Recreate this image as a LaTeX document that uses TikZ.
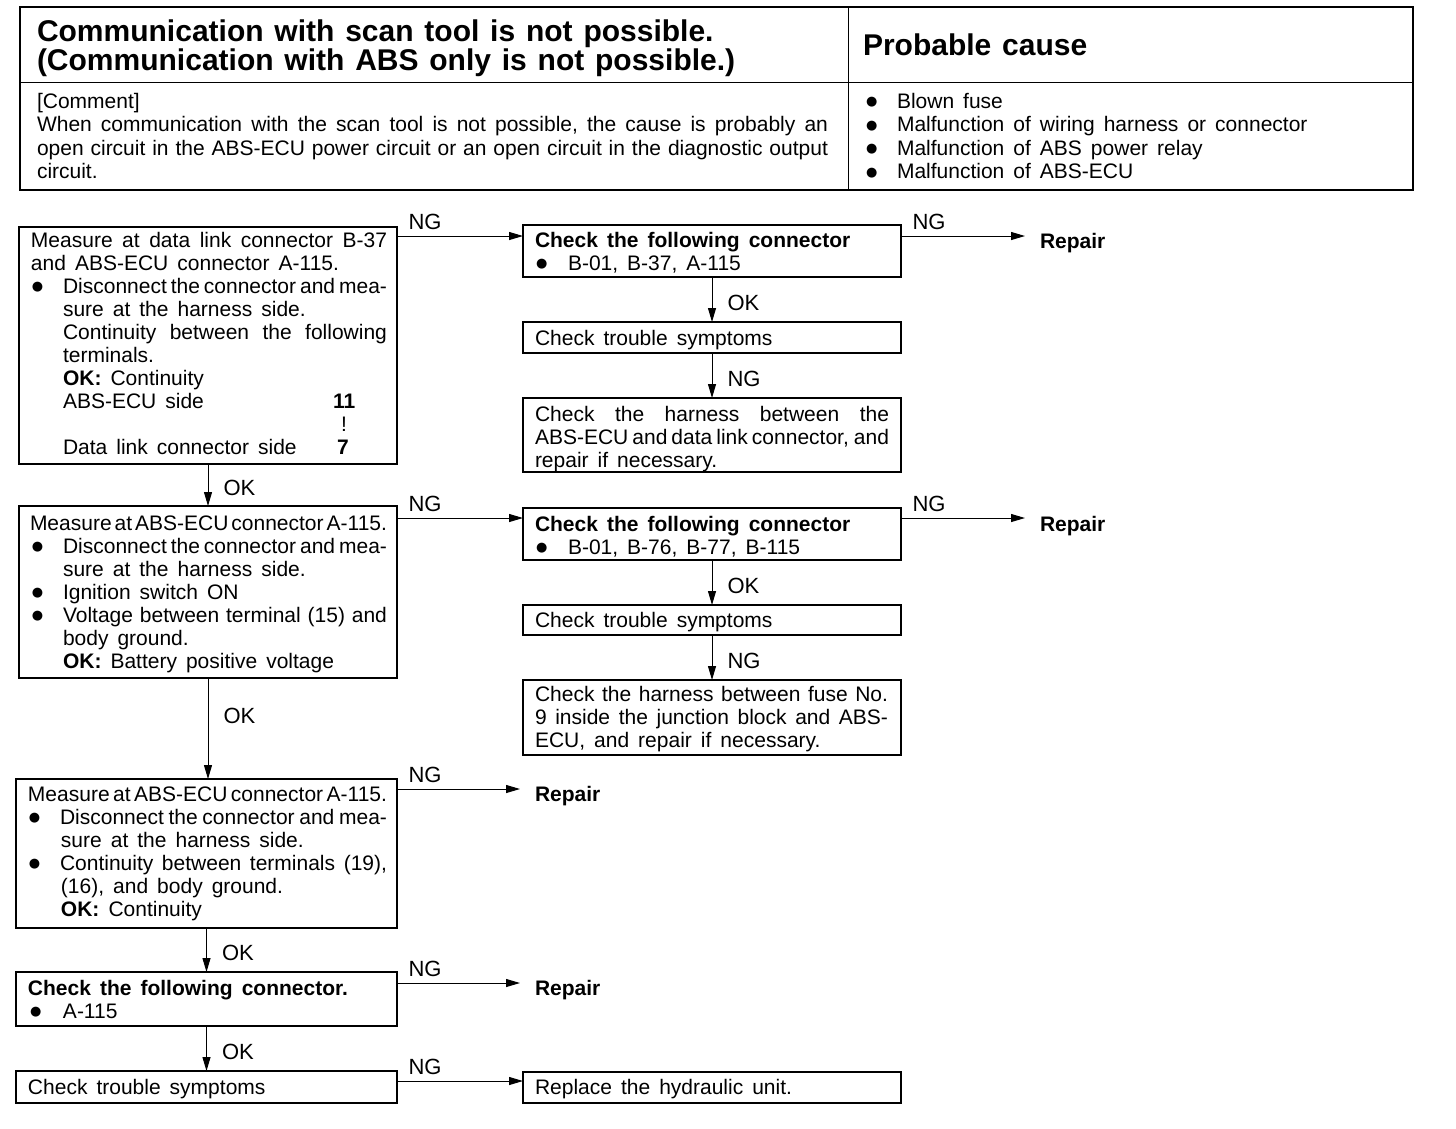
\documentclass[tikz,border=0pt]{standalone}
\usepackage{fontspec}
\setmainfont{Liberation Sans}
\newfontfamily\dvfont{DejaVu Sans}
\usetikzlibrary{arrows.meta}
\newlength\bw \newlength\padl \newlength\padr
\newcommand\Ln[2][0pt]{\hbox to \bw{\hskip\dimexpr\padl+#1\relax #2\hfil}}
\newcommand\Lj[2][0pt]{\hbox to \bw{\hskip\dimexpr\padl+#1\relax #2\hskip\padr}}
\newcommand\Lat[2]{\rlap{\hskip#1\relax #2}}
\newcommand\bdot{\raisebox{2.5pt}{\dvfont\fontsize{13}{13}\selectfont ●}}
\newcommand\bul{\makebox[32pt][l]{\hskip1pt\bdot}}
\newcommand\boxc[7]{\vbox to #2{\bw=#1\relax\padl=#5\relax\padr=#6\relax
  \baselineskip=#4\relax\lineskiplimit=-100pt\lineskip=0pt
  \vskip\dimexpr#3-#4\relax\hbox{}#7\vfil}}
\newcommand\bfnt{\fontsize{21}{23}\selectfont\spaceskip=.43em plus .6em minus .4em\relax}
\newcommand\lfnt{\fontsize{22}{24}\selectfont}
\newcommand\tfnt{\fontsize{30}{29}\selectfont\bfseries\spaceskip=.36em plus .5em minus .3em\relax}
\tikzset{
  box/.style={draw, line width=1.3pt, inner sep=0pt, outer sep=0pt, anchor=north west, font=\bfnt},
  cell/.style={draw, line width=1pt, inner sep=0pt, outer sep=0pt, anchor=north west, font=\bfnt},
  arr/.style={line width=1pt, -{Triangle[length=14pt,width=8pt]}},
  lblh/.style={pos=0, anchor=south west, inner sep=0pt, xshift=11pt, yshift=6pt, font=\lfnt},
  lblv/.style={midway, anchor=west, inner sep=0pt, xshift=15pt, yshift=-3pt, font=\lfnt},
  repair/.style={inner sep=0pt, outer xsep=15pt, anchor=base west, font=\bfnt\bfseries}
}
\begin{document}
\begin{tikzpicture}[x=1pt,y=-1pt]
\useasboundingbox (0,0) rectangle (1456,1128);
% header table
\node[cell, font=\tfnt] (hL) at (20,7) {\boxc{828pt}{75pt}{34pt}{29pt}{17pt}{0pt}{%
  \Ln{Communication with scan tool is not possible.}
  \Ln{(Communication with ABS only is not possible.)}}};
\node[cell, font=\tfnt] (hR) at (848,7) {\boxc{565pt}{75pt}{48pt}{29pt}{15pt}{0pt}{%
  \Ln{Probable cause}}};
\node[cell] (cL) at (20,82) {\boxc{828pt}{108pt}{26pt}{23.5pt}{17pt}{20pt}{%
  \Ln{[Comment]}
  \Lj{When communication with the scan tool is not possible, the cause is probably an}
  \Lj{open circuit in the ABS-ECU power circuit or an open circuit in the diagnostic output}
  \Ln{circuit.}}};
\node[cell] (cR) at (848,82) {\boxc{565pt}{108pt}{26pt}{23.5pt}{18pt}{0pt}{%
  \Ln{\makebox[31pt][l]{\bdot}Blown fuse}
  \Ln{\makebox[31pt][l]{\bdot}Malfunction of wiring harness or connector}
  \Ln{\makebox[31pt][l]{\bdot}Malfunction of ABS power relay}
  \Ln{\makebox[31pt][l]{\bdot}Malfunction of ABS-ECU}}};
\draw[line width=2pt] (hL.north west) rectangle (cR.south east);
% left column
\node[box] (A1) at (19,227) {\boxc{378pt}{237pt}{20pt}{23pt}{12pt}{10pt}{%
  \Lj{Measure at data link connector B-37}
  \Ln{and ABS-ECU connector A-115.}
  \Lj{\bul Disconnect the connector and mea-}
  \Ln[32pt]{sure at the harness side.}
  \Lj[32pt]{Continuity between the following}
  \Ln[32pt]{terminals.}
  \Ln[32pt]{\textbf{OK:} Continuity}
  \hbox to \bw{\Lat{44pt}{ABS-ECU side}\Lat{314pt}{\textbf{11}}\hfil}
  \hbox to \bw{\Lat{322pt}{!}\hfil}
  \hbox to \bw{\Lat{44pt}{Data link connector side}\Lat{318pt}{\textbf{7}}\hfil}}};
\node[box] (A2) at (19,506) {\boxc{378pt}{172pt}{24pt}{23pt}{11pt}{10pt}{%
  \Lj{Measure at ABS-ECU connector A-115.}
  \Lj[1pt]{\bul Disconnect the connector and mea-}
  \Ln[33pt]{sure at the harness side.}
  \Ln[1pt]{\bul Ignition switch ON}
  \Lj[1pt]{\bul Voltage between terminal (15) and}
  \Ln[33pt]{body ground.}
  \Ln[33pt]{\textbf{OK:} Battery positive voltage}}};
\node[box] (A3) at (16,779) {\boxc{381pt}{149pt}{22pt}{23pt}{12pt}{10pt}{%
  \Lj{Measure at ABS-ECU connector A-115.}
  \Lj{\bul Disconnect the connector and mea-}
  \Ln[33pt]{sure at the harness side.}
  \Lj{\bul Continuity between terminals (19),}
  \Ln[33pt]{(16), and body ground.}
  \Ln[33pt]{\textbf{OK:} Continuity}}};
\node[box] (A4) at (16,972) {\boxc{381pt}{54pt}{23pt}{23pt}{12pt}{10pt}{%
  \Ln{\textbf{Check the following connector.}}
  \Ln{\makebox[35pt][l]{\hskip2pt\bdot}A-115}}};
\node[box] (A5) at (16,1071) {\boxc{381pt}{32pt}{23pt}{23pt}{12pt}{10pt}{%
  \Ln{Check trouble symptoms}}};
% right column
\node[box] (B1) at (523,225) {\boxc{378pt}{52pt}{22pt}{23pt}{12pt}{12pt}{%
  \Ln{\textbf{Check the following connector}}
  \Ln{\makebox[33pt][l]{\hskip1pt\bdot}B-01, B-37, A-115}}};
\node[box] (B2) at (523,322) {\boxc{378pt}{31pt}{23pt}{23pt}{12pt}{12pt}{%
  \Ln{Check trouble symptoms}}};
\node[box] (B3) at (523,398) {\boxc{378pt}{74pt}{23pt}{23pt}{12pt}{12pt}{%
  \Lj{Check the harness between the}
  \Lj{ABS-ECU and data link connector, and}
  \Ln{repair if necessary.}}};
\node[box] (B4) at (523,508) {\boxc{378pt}{52pt}{23pt}{23pt}{12pt}{12pt}{%
  \Ln{\textbf{Check the following connector}}
  \Ln{\makebox[33pt][l]{\hskip1pt\bdot}B-01, B-76, B-77, B-115}}};
\node[box] (B5) at (523,605) {\boxc{378pt}{30pt}{22pt}{23pt}{12pt}{12pt}{%
  \Ln{Check trouble symptoms}}};
\node[box] (B6) at (523,680) {\boxc{378pt}{75pt}{21pt}{23pt}{12pt}{13pt}{%
  \Lj{Check the harness between fuse No.}
  \Lj{9 inside the junction block and ABS-}
  \Ln{ECU, and repair if necessary.}}};
\node[box] (B7) at (523,1072) {\boxc{378pt}{31pt}{22pt}{23pt}{12pt}{12pt}{%
  \Ln{Replace the hydraulic unit.}}};
% repair labels
\node[repair] (R1) at (1025,248) {Repair};
\node[repair] (R2) at (1025,531) {Repair};
\node[repair] (R3) at (520,801) {Repair};
\node[repair] (R4) at (520,995) {Repair};
% connectors
\draw[arr] (A1.east |- 0,236) -- node[lblh]{NG} (B1.west |- 0,236);
\draw[arr] (B1.east |- 0,236) -- node[lblh]{NG} (R1.west |- 0,236);
\draw[arr] (B1.south) -- node[lblv]{OK} (B2.north);
\draw[arr] (B2.south) -- node[lblv]{NG} (B3.north);
\draw[arr] (A1.south) -- node[lblv]{OK} (A2.north);
\draw[arr] (A2.east |- 0,518) -- node[lblh]{NG} (B4.west |- 0,518);
\draw[arr] (B4.east |- 0,518) -- node[lblh]{NG} (R2.west |- 0,518);
\draw[arr] (B4.south) -- node[lblv]{OK} (B5.north);
\draw[arr] (B5.south) -- node[lblv]{NG} (B6.north);
\draw[arr] (A2.south) -- node[lblv, pos=.35]{OK} (A2.south |- A3.north);
\draw[arr] (A3.east |- 0,789) -- node[lblh]{NG} (R3.west |- 0,789);
\draw[arr] (A3.south) -- node[lblv]{OK} (A4.north);
\draw[arr] (A4.east |- 0,983) -- node[lblh]{NG} (R4.west |- 0,983);
\draw[arr] (A4.south) -- node[lblv]{OK} (A5.north);
\draw[arr] (A5.east |- 0,1081) -- node[lblh]{NG} (B7.west |- 0,1081);
\end{tikzpicture}
\end{document}
